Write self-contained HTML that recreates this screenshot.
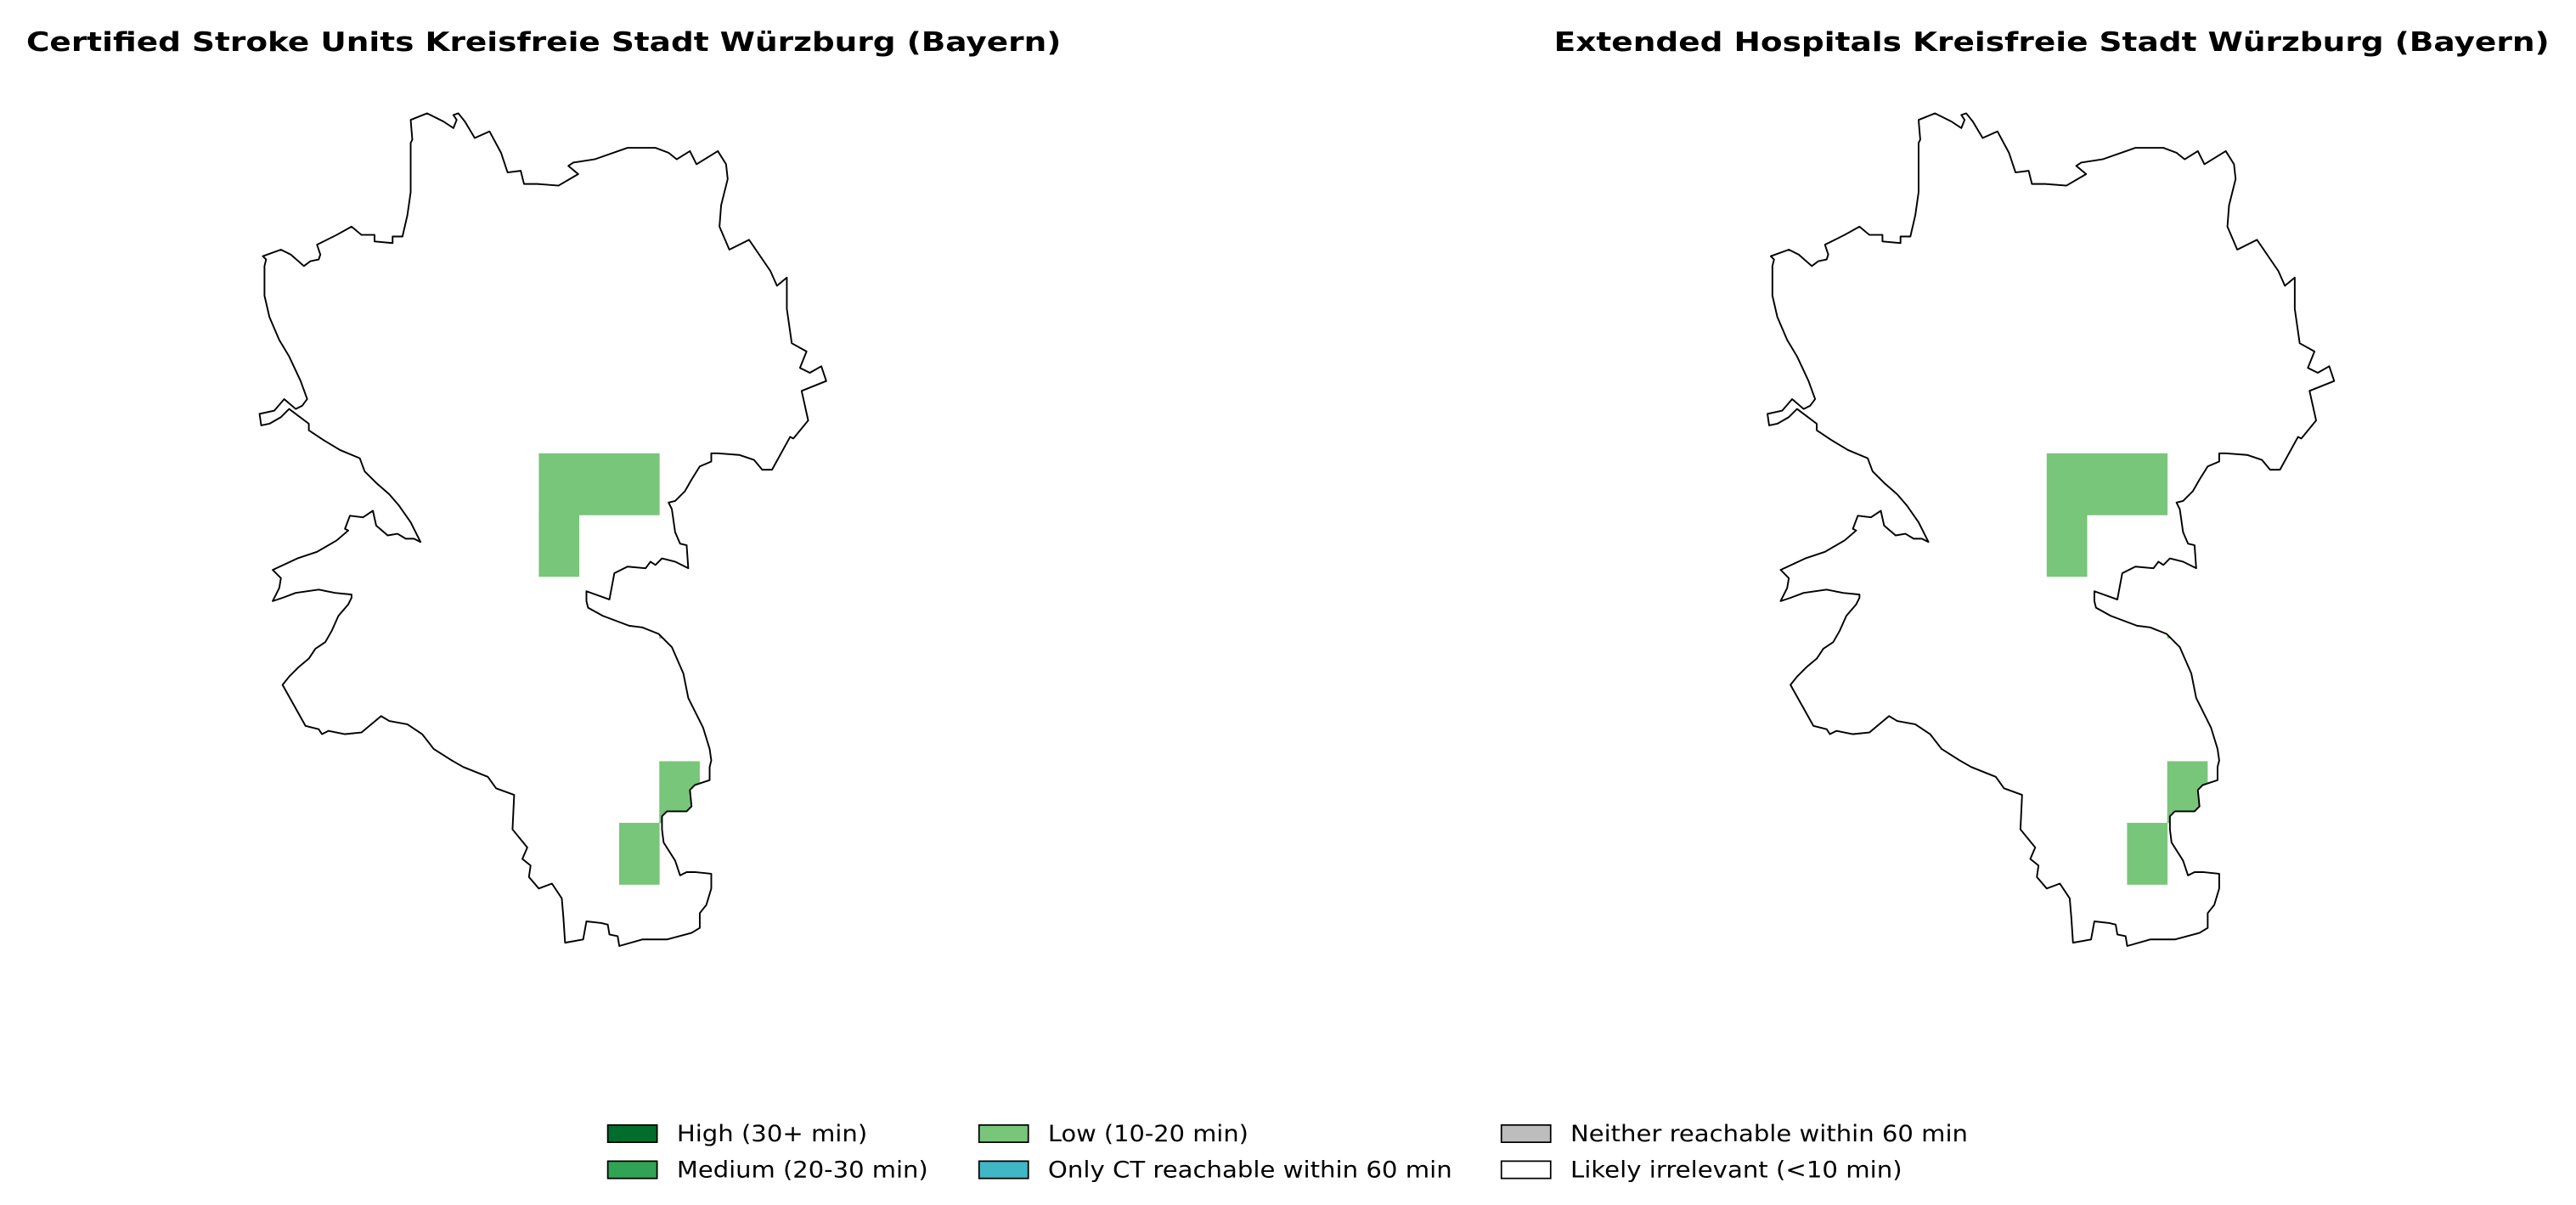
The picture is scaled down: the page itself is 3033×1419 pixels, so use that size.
<!DOCTYPE html>
<html><head><meta charset="utf-8"><style>
html,body{margin:0;padding:0;background:#fff;}
svg{display:block;font-family:"DejaVu Sans","Liberation Sans",sans-serif;}
</style></head><body>
<svg id="chart" width="3033" height="1419" viewBox="0 0 1568.2 733.7" xmlns="http://www.w3.org/2000/svg">
<rect width="1568.2" height="733.7" fill="#fff"/>
<text x="331" y="31" text-anchor="middle" font-size="16" font-weight="bold" textLength="630" lengthAdjust="spacingAndGlyphs">Certified Stroke Units Kreisfreie Stadt Würzburg (Bayern)</text>
<text x="1249" y="31" text-anchor="middle" font-size="16" font-weight="bold" textLength="606" lengthAdjust="spacingAndGlyphs">Extended Hospitals Kreisfreie Stadt Würzburg (Bayern)</text>
<g id="maps"></g>
<g id="legend"></g>
</svg>
<script>
// grid cell data (column index, row index, category)
const cellCols = [0, 1, 2, 0, 3, 3, 2];
const cellRows = [0, 0, 0, 1, 2, 5, 6];
const cellCats = ["low","low","low","low","low","low","low"];
const categories = ["high","medium","low","ct","neither","irrelevant"];
const categoryLabels = ["High (30+ min)","Medium (20-30 min)","Low (10-20 min)","Only CT reachable within 60 min","Neither reachable within 60 min","Likely irrelevant (<10 min)"];
const categoryColors = ["#006d2c","#31a354","#78c679","#41b6c4","#bdbdbd","#ffffff"];
const mapTitles = ["left","right"];

const outline = "250,73 260,69 270,74 276,78 278,73 276,70 279,69 283,74 289,84 298,80 305,93 309,105 317,104 319,112 327,112 340,113 352,106 346,101 349,99 362,97 382,90 399,90 407,93 412,97 420,92 424,100 437,92 442,100 443,109 439,125 438,138 444,152 456,146 469,165 473,174 479,169 479,188 482,209 491,214 487,224 493,227 500,223 503,232 488,238 492,256 483,267 481,266 470,286 464,286 459,280 450,277 437,276 433,276 433,281 426,284 421,292 417,299 411,305 407,306 409,310 411,324 414,331 418,332 419,346 411,342 403,340 399,344 396,342 393,346 382,345 374,349 371,365 357,360 357,366 358,370 367,375 383,381 391,382 401,386 409,394 416,410 419,425 428,443 432,456 433,463 432,467 432,475 423,478 420,481 421,491 418,494 406,494 403,497 403,505 404,513 411,524 414,533 418,531 423,531 433,532 433,541 430,551 426,556 426,565 421,568 406,572 391,572 377,576 376,570 371,569 370,563 366,562 357,561 355,572 344,574 343,559 342,547 336,538 328,541 322,534 323,527 318,523 321,516 312,505 313,484 302,480 297,473 282,467 275,463 264,456 257,447 248,441 237,439 232,436 220,446 210,447 200,445 196,447 194,444 186,442 172,417 176,412 182,406 188,401 192,395 198,391 202,384 206,375 212,368 214,364 214,362 204,361 194,359 180,361 172,364 166,366 170,358 171,352 166,347 181,340 193,336 205,329 212,323 210,322 213,314 221,315 227,311 229,320 236,326 242,325 247,328 252,328 256,330 250,318 243,308 237,301 229,294 222,287 219,279 207,274 197,268 188,262 188,258 176,249 171,254 164,258 159,259 158,252 167,250 173,243 180,249 184,247 187,243 183,232 176,217 170,207 164,193 161,180 161,162 162,158 160,156 171,152 177,155 185,162 189,159 194,158 195,155 193,149 205,143 214,138 220,143 228,143 228,147 239,148 239,144 245,144 248,131 250,117 250,87 251,85";

const NS = "http://www.w3.org/2000/svg";
const gridX0 = 328, gridY0 = 276, cellW = 24.45, cellH = 37.5;
const xOf = c => gridX0 + c * cellW;
const yOf = r => gridY0 + r * cellH;
const mapOffsets = [0, 918];
const maps = document.getElementById("maps");
mapTitles.forEach((t, mi) => {
  const g = document.createElementNS(NS, "g");
  g.setAttribute("transform", "translate(" + mapOffsets[mi] + ",0)");
  
  
  const cp = document.createElementNS(NS, "clipPath");
  cp.setAttribute("id", "clip" + mi);
  const cpp = document.createElementNS(NS, "polygon");
  cpp.setAttribute("points", outline);
  cp.appendChild(cpp);
  g.appendChild(cp);
  const cg = document.createElementNS(NS, "g");
  cg.setAttribute("clip-path", "url(#clip" + mi + ")");
  cellCols.forEach((c, i) => {
    const r = document.createElementNS(NS, "rect");
    
    
    r.setAttribute("x", xOf(c));
    r.setAttribute("y", yOf(cellRows[i]));
    r.setAttribute("width", cellW + 0.2);
    r.setAttribute("height", cellH + 0.2);
    r.setAttribute("fill", categoryColors[categories.indexOf(cellCats[i])]);
    cg.appendChild(r);
  });
  g.appendChild(cg);
  const p = document.createElementNS(NS, "polygon");
  
  
  p.setAttribute("points", outline);
  p.setAttribute("fill", "none");
  p.setAttribute("stroke", "#000");
  p.setAttribute("stroke-width", "1");
  p.setAttribute("stroke-linejoin", "round");
  g.appendChild(p);
  maps.appendChild(g);
});

const legend = document.getElementById("legend");
const colX = [370, 596, 914];
const rowY = [685, 707];
const labelLens = [116, 153, 122, 246, 242, 202];
categories.forEach((c, i) => {
  const col = Math.floor(i / 2), row = i % 2;
  const r = document.createElementNS(NS, "rect");
  
  
  r.setAttribute("x", colX[col]);
  r.setAttribute("y", rowY[row]);
  r.setAttribute("width", 30);
  r.setAttribute("height", 10.5);
  r.setAttribute("fill", categoryColors[i]);
  r.setAttribute("stroke", "#000");
  r.setAttribute("stroke-width", "0.9");
  legend.appendChild(r);
  const t = document.createElementNS(NS, "text");
  
  
  t.setAttribute("x", colX[col] + 42);
  t.setAttribute("y", rowY[row] + 10);
  t.setAttribute("font-size", "14");
  t.setAttribute("textLength", labelLens[i]);
  t.setAttribute("lengthAdjust", "spacingAndGlyphs");
  t.textContent = categoryLabels[i];
  legend.appendChild(t);
});
</script>
</body></html>
